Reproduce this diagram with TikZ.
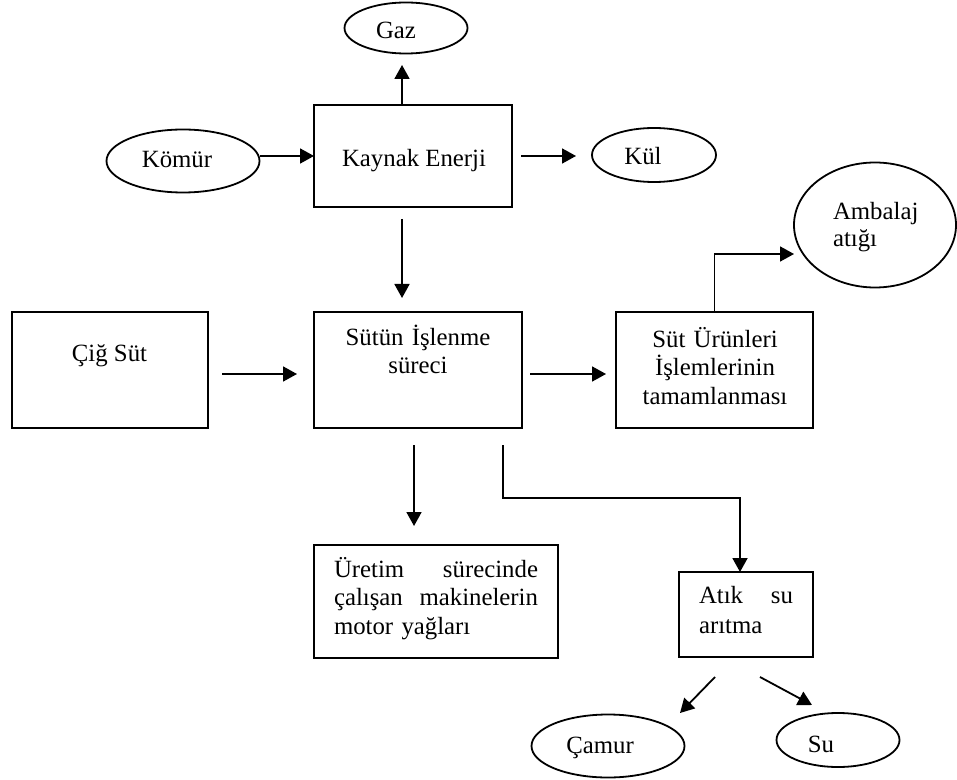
\documentclass[tikz,border=0pt]{standalone}
\usepackage{fontspec}
\setmainfont{Liberation Serif}
\usetikzlibrary{shapes.geometric,arrows.meta}

\newcommand\fullline[2]{\leavevmode\hbox to #1{#2}}

\begin{document}
\begin{tikzpicture}[x=0.5pt,y=-0.5pt,
  every node/.style={inner sep=0pt, outer sep=0pt},
  lbl/.style={font=\fontsize{12.4}{14.3}\selectfont, anchor=base},
  blk/.style={draw, line width=0.9pt, rectangle},
  oval/.style={draw, line width=0.9pt, ellipse},
  arr/.style={line width=0.9pt, -{Triangle[length=7pt,width=7.5pt]}}]
\useasboundingbox (0,0) rectangle (957,780);

% ---- energy source and its by-products ----
\node[oval, minimum width=61.5pt, minimum height=25.5pt] (gaz) at (406,28) {};
\node[lbl] (gaz-t) at (396,39) {Gaz};

\node[oval, minimum width=76.5pt, minimum height=31.5pt] (komur) at (183,161) {};
\node[lbl] (komur-t) at (177,168) {Kömür};

\node[oval, minimum width=62pt, minimum height=27pt] (kul) at (654,155) {};
\node[lbl] (kul-t) at (643,165) {Kül};

\node[blk, minimum width=99pt, minimum height=51pt] (kaynak) at (413,156) {};
\node[lbl] (kaynak-t) at (414,167) {Kaynak Enerji};

% ---- main process row ----
\node[blk, minimum width=98pt, minimum height=58pt] (cig) at (110,370) {};
\node[lbl] (cig-t) at (109.5,361) {Çiğ Süt};

\node[blk, minimum width=104pt, minimum height=58pt] (surec) at (418,370) {};
\node[lbl, text width=104pt, align=center] (surec-t) at (418,345) {Sütün İşlenme\\süreci};

\node[blk, minimum width=98.5pt, minimum height=58pt] (urun) at (714.5,370) {};
\node[lbl, text width=98.5pt, align=center] (urun-t) at (715,347)
  {Süt Ürünleri\\İşlemlerinin\\tamamlanması};

\node[oval, minimum width=81pt, minimum height=62.5pt] (ambalaj) at (875,225) {};
\node[lbl, anchor=base west, text width=50pt, align=left, font=\fontsize{12.4}{13.5}\selectfont]
  (ambalaj-t) at (833,220) {Ambalaj\\atığı};

% ---- outputs of the process (justified lines) ----
\node[blk, minimum width=122pt, minimum height=56.5pt] (uretim) at (436,601.5) {};
\node[lbl, anchor=base west, text width=102pt, align=left] (uretim-t) at (334,577)
  {\fullline{102pt}{Üretim\hfill sürecinde}\\
   \fullline{102pt}{çalışan\hfill makinelerin}\\
   motor yağları};

\node[blk, minimum width=67pt, minimum height=42.5pt] (atik) at (746,614.5) {};
\node[lbl, anchor=base west, text width=47pt, align=left, font=\fontsize{12.4}{15}\selectfont]
  (atik-t) at (699,603)
  {\fullline{47pt}{Atık\hfill su}\\arıtma};

\node[oval, minimum width=76.5pt, minimum height=31.5pt] (camur) at (608,746) {};
\node[lbl] (camur-t) at (600,753) {Çamur};

\node[oval, minimum width=61.5pt, minimum height=27pt] (su) at (838,740) {};
\node[lbl] (su-t) at (821,752) {Su};

% ---- connectors ----
\draw[arr] ([xshift=-5.5pt]kaynak.north) -- ([xshift=-2pt,yshift=-5.75pt]gaz.south);
\draw[arr] (komur.east |- kaynak.west) -- (kaynak.west);
\draw[arr] ([xshift=4.5pt]kaynak.east) -- ([xshift=-8pt]kul.west |- kaynak.east);
\draw[arr] ([xshift=-5.5pt,yshift=-6pt]kaynak.south) -- ([xshift=-8pt,yshift=7pt]surec.north);
\draw[arr] ([xshift=7pt,yshift=-2pt]cig.east) -- ([xshift=-8.5pt,yshift=-2pt]surec.west);
\draw[arr] ([xshift=4pt,yshift=-2pt]surec.east) -- ([xshift=-5pt,yshift=-2pt]urun.west);
\draw[arr] (urun.north) |- ([yshift=-14.5pt]ambalaj.west);
\draw[arr] ([xshift=-2pt,yshift=-8.5pt]surec.south) -- ([xshift=-11pt,yshift=9.5pt]uretim.north);
\draw[arr] ([xshift=42.5pt,yshift=-8.5pt]surec.south) -- ++(0pt,-26.5pt)
  -| ([xshift=-3pt]atik.north);
\draw[arr] ([xshift=-15.5pt,yshift=-10pt]atik.south) -- ([xshift=36pt,yshift=0.75pt]camur.north);
\draw[arr] ([xshift=7pt,yshift=-10pt]atik.south) -- ([xshift=-13pt,yshift=4pt]su.north);
\end{tikzpicture}
\end{document}
